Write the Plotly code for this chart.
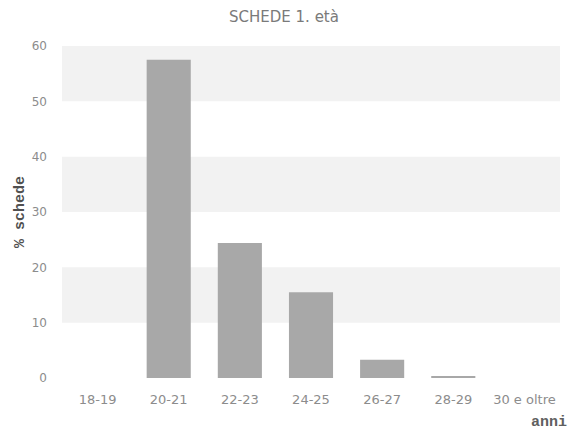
import plotly.graph_objects as go

categories = ["18-19", "20-21", "22-23", "24-25", "26-27", "28-29", "30 e oltre"]
values = [0, 57.5, 24.4, 15.5, 3.3, 0.3, 0]
y_ticks = [0, 10, 20, 30, 40, 50, 60]

W, H = 570, 433
L, R, T, B = 62, 10, 46, 55
PW, PH = W - L - R, H - T - B


def px(x):
    return (x - L) / PW


def py(y):
    return (H - B - y) / PH


fig = go.Figure()
fig.add_trace(go.Bar(
    x=categories, y=values,
    marker=dict(color="#a8a8a8", line=dict(width=0)),
    width=0.62,
))

shapes = []
for lo in (10, 30, 50):
    shapes.append(dict(type="rect", xref="paper", yref="y", x0=0, x1=1,
                       y0=lo, y1=lo + 10, fillcolor="#f2f2f2",
                       line=dict(width=0), layer="below"))

fig.update_layout(
    width=W, height=H,
    margin=dict(l=L, r=R, t=T, b=B),
    paper_bgcolor="white", plot_bgcolor="white",
    showlegend=False,
    shapes=shapes,
    font=dict(family="DejaVu Sans", color="#8a8a8a", size=12),
    xaxis=dict(showgrid=False, zeroline=False, showline=False, ticks="",
               tickfont=dict(size=13, color="#8c8c8c"), ticklabelstandoff=12),
    yaxis=dict(range=[0, 60], tickvals=y_ticks, showgrid=False, zeroline=False,
               showline=False, ticks="", tickfont=dict(size=12, color="#8c8c8c"),
               ticklabelstandoff=14),
)
fig.add_annotation(text="SCHEDE 1. età", xref="paper", yref="paper",
                   x=px(284), y=py(17), xanchor="center", yanchor="middle",
                   showarrow=False, font=dict(family="DejaVu Sans", size=15, color="#7a7a7a"))
fig.add_annotation(text="<b>% schede</b>", xref="paper", yref="paper",
                   x=px(20), y=py(212), xanchor="center", yanchor="middle",
                   textangle=-90, showarrow=False,
                   font=dict(family="Liberation Mono", size=15, color="#505050"))
fig.add_annotation(text="<b>anni</b>", xref="paper", yref="paper",
                   x=px(569), y=py(422), xanchor="right", yanchor="middle",
                   showarrow=False,
                   font=dict(family="Liberation Mono", size=15, color="#606060"))

fig.write_html("out.html", config={"displayModeBar": False},
               post_script="document.body.style.margin='0';")
